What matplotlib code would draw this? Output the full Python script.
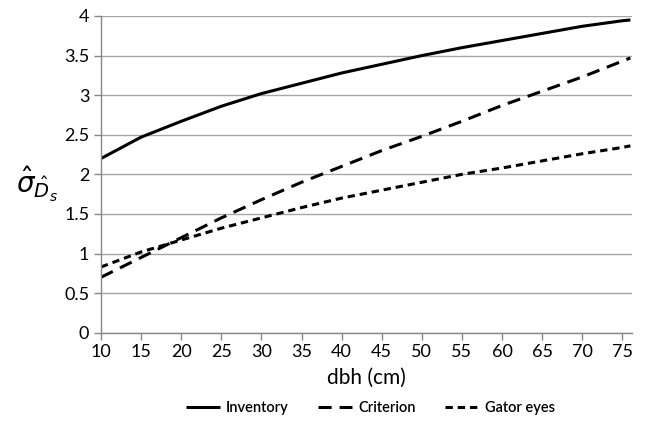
import matplotlib
matplotlib.use("Agg")
import matplotlib.pyplot as plt
import numpy as np

dbh = [10, 15, 20, 25, 30, 35, 40, 45, 50, 55, 60, 65, 70, 75, 76]
inventory = [2.20, 2.47, 2.67, 2.86, 3.02, 3.15, 3.28, 3.39, 3.50, 3.60, 3.69, 3.78, 3.87, 3.94, 3.95]
criterion = [0.70, 0.95, 1.20, 1.45, 1.68, 1.90, 2.10, 2.30, 2.48, 2.67, 2.87, 3.05, 3.23, 3.43, 3.47]
gator_eyes = [0.83, 1.02, 1.17, 1.32, 1.45, 1.58, 1.70, 1.80, 1.90, 2.00, 2.08, 2.17, 2.26, 2.34, 2.36]
x_ticks = [10, 15, 20, 25, 30, 35, 40, 45, 50, 55, 60, 65, 70, 75]
y_ticks = [0, 0.5, 1, 1.5, 2, 2.5, 3, 3.5, 4]

plt.rcParams['font.family'] = ['Lato', 'DejaVu Sans']

fig = plt.figure(figsize=(6.5, 4.23), dpi=100)
ax = fig.add_axes([0.1554, 0.2135, 0.8169, 0.7487])

ax.plot(dbh, inventory, color='black', lw=2.2, solid_capstyle='butt', label='Inventory')
ax.plot(dbh, criterion, color='black', lw=2.2, dashes=(4.3, 2.6), label='Criterion')
ax.plot(dbh, gator_eyes, color='black', lw=2.2, dashes=(2.4, 1.6), label='Gator eyes')

ax.set_xlim(10, 76.2)
ax.set_ylim(0, 4)
ax.set_xticks(x_ticks)
ax.set_yticks(y_ticks)
ax.set_yticklabels([f"{v:g}" for v in y_ticks])
ax.tick_params(labelsize=13, colors='#888888', labelcolor='black', length=5, width=1)
ax.grid(axis='y', color='#a6a6a6', lw=1)
ax.set_axisbelow(True)
for s in ['top', 'right']:
    ax.spines[s].set_visible(False)
for s in ['left', 'bottom']:
    ax.spines[s].set_color('#888888')
    ax.spines[s].set_linewidth(1)

ax.set_xlabel('dbh (cm)', fontsize=15, labelpad=5)
fig.text(0.025, 0.565, r'$\hat{\sigma}_{\hat{D}_s}$', fontsize=20, ha='left', va='center')

fig.legend(loc='center', bbox_to_anchor=(0.57, 0.035), ncol=3, frameon=False,
           prop={'size': 10.5, 'weight': 'semibold'},
           handlelength=2.35, handletextpad=0.4, columnspacing=2.0)

fig.savefig('out.png', dpi=100)
